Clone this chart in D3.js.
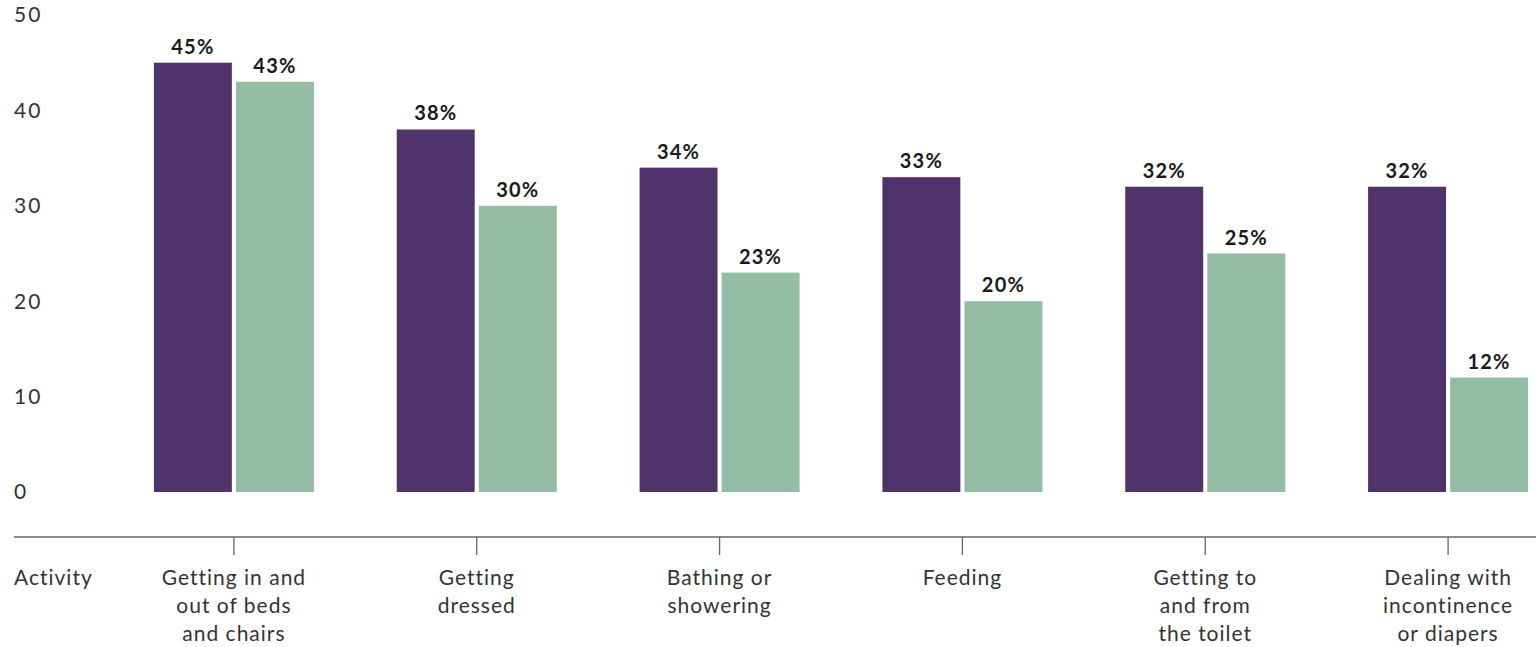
<!DOCTYPE html>
<html>
<head>
<meta charset="utf-8">
<script src="https://cdn.jsdelivr.net/npm/d3@7"></script>
<style>
  html, body { margin: 0; padding: 0; background: #fff; }
  svg { display: block; font-family: Lato, "Open Sans", sans-serif; }
</style>
</head>
<body>
<svg id="chart" width="1536" height="647"></svg>
<script>
// Activities of daily living (multi-line labels)
const categories = [
  ["Getting in and", "out of beds", "and chairs"],
  ["Getting", "dressed"],
  ["Bathing or", "showering"],
  ["Feeding"],
  ["Getting to", "and from", "the toilet"],
  ["Dealing with", "incontinence", "or diapers"]
];
const seriesNames = ["first", "second"];
const firstValues  = [45, 38, 34, 33, 32, 32];
const secondValues = [43, 30, 23, 20, 25, 12];
const yTicks = [0, 10, 20, 30, 40, 50];
const axisTitle = "Activity";

const colors = { first: "#51336b", second: "#93bda4" };

const svg = d3.select("#chart");
const keys = categories.map(c => c.join(" "));

const x = d3.scaleBand().domain(keys).range([112.5, 1569.5]).padding(0);
const xInner = d3.scaleBand().domain(seriesNames).range([-80, 80]).paddingInner(0.05);
const y = d3.scaleLinear().domain([0, 50]).range([492, 15]);

const rows = keys.map((k, i) => ({ key: k, lines: categories[i], first: firstValues[i], second: secondValues[i] }));

// y tick labels (no axis line)
svg.append("g").selectAll("text").data(yTicks).join("text")
  .attr("x", 14).attr("y", d => y(d)).attr("dy", "0.35em")
  .attr("font-size", 21).attr("letter-spacing", 2).attr("fill", "#333")
  .text(d => d);

// bars
const groups = svg.append("g").selectAll("g").data(rows).join("g")
  .attr("transform", d => `translate(${x(d.key) + x.bandwidth() / 2},0)`);

groups.selectAll("rect").data(d => seriesNames.map(s => ({ s, v: d[s] }))).join("rect")
  .attr("x", d => xInner(d.s)).attr("width", xInner.bandwidth())
  .attr("y", d => y(d.v)).attr("height", d => y(0) - y(d.v))
  .attr("fill", d => colors[d.s]);

groups.selectAll("text.val").data(d => seriesNames.map(s => ({ s, v: d[s] }))).join("text")
  .attr("class", "val")
  .attr("x", d => xInner(d.s) + xInner.bandwidth() / 2)
  .attr("y", d => y(d.v) - 9)
  .attr("text-anchor", "middle").attr("font-size", 20).attr("font-weight", "bold")
  .attr("letter-spacing", 1.2)
  .attr("fill", "#1a1a1a")
  .text(d => d.v + "%");

// category axis
const axisY = 537;
svg.append("line").attr("x1", 14).attr("x2", 1536).attr("y1", axisY).attr("y2", axisY)
  .attr("stroke", "#666").attr("stroke-width", 1.3);

groups.append("line").attr("x1", 0).attr("x2", 0).attr("y1", axisY).attr("y2", axisY + 18)
  .attr("stroke", "#666").attr("stroke-width", 1.3);

groups.append("text").attr("text-anchor", "middle").attr("font-size", 21)
  .attr("letter-spacing", 1).attr("fill", "#333")
  .selectAll("tspan").data(d => d.lines).join("tspan")
  .attr("x", 0).attr("y", (d, i) => 585 + i * 28)
  .text(d => d);

svg.append("text").attr("x", 14).attr("y", 585).attr("font-size", 21)
  .attr("letter-spacing", 1).attr("fill", "#333")
  .text(axisTitle);
</script>
</body>
</html>
